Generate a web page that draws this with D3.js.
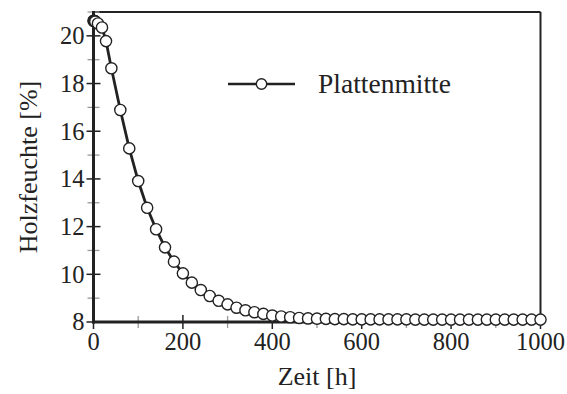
<!DOCTYPE html>
<html>
<head>
<meta charset="utf-8">
<script src="https://cdn.jsdelivr.net/npm/d3@7/dist/d3.min.js"></script>
<style>
  html, body { margin: 0; padding: 0; background: #fff; }
  svg { display: block; }
  text { font-family: "Liberation Serif", "Times New Roman", "DejaVu Serif", serif; fill: #222; }
</style>
</head>
<body>
<svg id="chart" width="567" height="394"></svg>
<script>
// Drying time [h]
const zeit = [0, 1, 2, 3, 4, 10, 19, 28, 40, 60, 80, 100, 120, 140, 160, 180, 200,
  220, 240, 260, 280, 300, 320, 340, 360, 380, 400, 420, 440, 460, 480, 500,
  520, 540, 560, 580, 600, 620, 640, 660, 680, 700, 720, 740, 760, 780, 800,
  820, 840, 860, 880, 900, 920, 940, 960, 980, 1000];

// Wood moisture at the board centre [%]
const plattenmitte = [20.63, 20.63, 20.62, 20.61, 20.6, 20.52, 20.35, 19.78, 18.64,
  16.89, 15.28, 13.91, 12.79, 11.89, 11.13, 10.53, 10.04, 9.65, 9.34, 9.09,
  8.89, 8.74, 8.6, 8.49, 8.41, 8.34, 8.27, 8.23, 8.2, 8.17, 8.15, 8.14, 8.13,
  8.12, 8.12, 8.11, 8.11, 8.11, 8.11, 8.11, 8.11, 8.11, 8.1, 8.1, 8.1, 8.1,
  8.1, 8.1, 8.1, 8.1, 8.1, 8.1, 8.1, 8.1, 8.1, 8.1, 8.1];

const xMajor = [0, 200, 400, 600, 800, 1000];
const xMinor = [100, 300, 500, 700, 900];
const yMajor = [8, 10, 12, 14, 16, 18, 20];
const yMinor = [9, 11, 13, 15, 17, 19, 21];

const seriesName = "Plattenmitte";
const xTitle = "Zeit [h]";
const yTitle = "Holzfeuchte [%]";

const svg = d3.select("#chart");
const L = 93.5, R = 540.5, T = 12, B = 322;
const ink = "#222";
const tickFont = 24.5;
const titleFont = 26;
const legendFont = 27.5;

const x = d3.scaleLinear().domain([0, 1000]).range([L, R]);
const y = d3.scaleLinear().domain([8, 21]).range([B, T]);

// frame: top and right thinner, left and bottom axes heavier
svg.append("line").attr("x1", L).attr("x2", R).attr("y1", T).attr("y2", T)
  .attr("stroke", ink).attr("stroke-width", 2);
svg.append("line").attr("x1", R).attr("x2", R).attr("y1", T).attr("y2", B)
  .attr("stroke", ink).attr("stroke-width", 2);

// minor ticks (grey), drawn through the axis line
const gMinor = svg.append("g").attr("stroke", "#9a9a9a").attr("stroke-width", 1.3);
gMinor.selectAll(".xm").data(xMinor).join("line")
  .attr("x1", d => x(d)).attr("x2", d => x(d)).attr("y1", B - 6).attr("y2", B + 6);
gMinor.selectAll(".ym").data(yMinor).join("line")
  .attr("x1", L - 6).attr("x2", L + 6).attr("y1", d => y(d)).attr("y2", d => y(d));

// major ticks
const gMajor = svg.append("g").attr("stroke", ink).attr("stroke-width", 1.5);
gMajor.selectAll(".xM").data(xMajor).join("line")
  .attr("x1", d => x(d)).attr("x2", d => x(d)).attr("y1", B - 7).attr("y2", B + 7);
gMajor.selectAll(".yM").data(yMajor).join("line")
  .attr("x1", L - 7).attr("x2", L + 7).attr("y1", d => y(d)).attr("y2", d => y(d));

// axis lines
svg.append("line").attr("x1", L).attr("x2", L).attr("y1", T - 1).attr("y2", B + 1.5)
  .attr("stroke", ink).attr("stroke-width", 3);
svg.append("line").attr("x1", L - 1.5).attr("x2", R + 1).attr("y1", B).attr("y2", B)
  .attr("stroke", ink).attr("stroke-width", 3.2);

// tick labels
svg.append("g").selectAll("text").data(xMajor).join("text")
  .attr("x", d => x(d)).attr("y", B + 28)
  .attr("text-anchor", "middle").attr("font-size", tickFont)
  .text(d => d);
svg.append("g").selectAll("text").data(yMajor).join("text")
  .attr("x", L - 9).attr("y", d => y(d)).attr("dy", "0.34em")
  .attr("text-anchor", "end").attr("font-size", tickFont)
  .text(d => d);

// axis titles
svg.append("text").attr("x", (L + R) / 2).attr("y", 385)
  .attr("text-anchor", "middle").attr("font-size", titleFont).text(xTitle);
svg.append("text")
  .attr("transform", `translate(37, ${(T + B) / 2}) rotate(-90)`)
  .attr("text-anchor", "middle").attr("font-size", titleFont).text(yTitle);

// series line and markers
const pts = zeit.map((t, i) => [t, plattenmitte[i]]);
svg.append("path").datum(pts)
  .attr("d", d3.line().x(d => x(d[0])).y(d => y(d[1])))
  .attr("fill", "none").attr("stroke", ink).attr("stroke-width", 2.8)
  .attr("stroke-linejoin", "round");
svg.append("g").selectAll("circle").data(pts).join("circle")
  .attr("cx", d => x(d[0])).attr("cy", d => y(d[1])).attr("r", 5.6)
  .attr("fill", "#fff").attr("stroke", ink).attr("stroke-width", 1.4);

// legend
const lg = svg.append("g");
lg.append("line").attr("x1", 228).attr("x2", 295).attr("y1", 84).attr("y2", 84)
  .attr("stroke", ink).attr("stroke-width", 2.6);
lg.append("circle").attr("cx", 261.5).attr("cy", 84).attr("r", 5.2)
  .attr("fill", "#fff").attr("stroke", ink).attr("stroke-width", 1.4);
lg.append("text").attr("x", 318).attr("y", 84).attr("dy", "0.34em")
  .attr("font-size", legendFont).text(seriesName);
</script>
</body>
</html>
